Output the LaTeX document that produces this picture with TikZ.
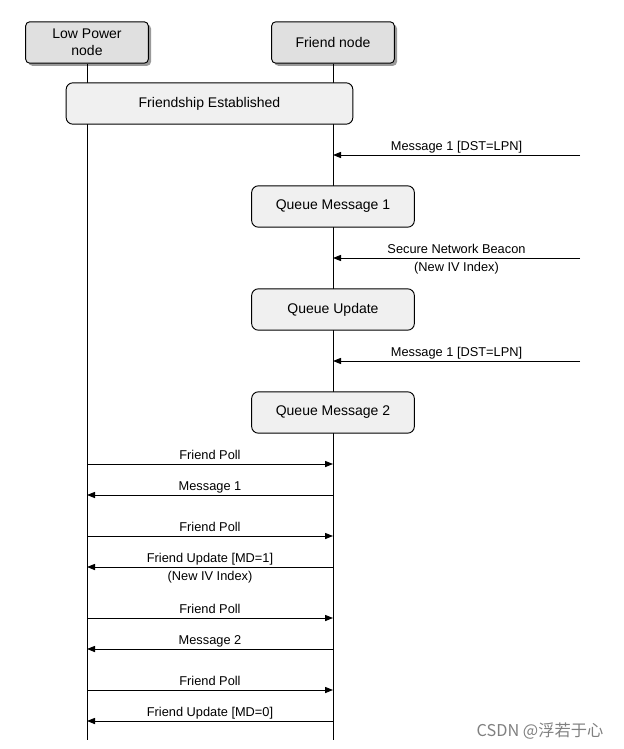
\documentclass[tikz,border=0pt]{standalone}
\usepackage{fontspec}
\setmainfont{Liberation Sans}
\newfontfamily\cjkfont{Noto Sans CJK SC}
\usetikzlibrary{arrows.meta,shadows}

\begin{document}
\begin{tikzpicture}[x=0.75pt, y=-0.75pt, line width=0.7pt,
    font=\fontsize{9.6}{11.5}\selectfont,
    actor/.style={draw, rounded corners=3pt, fill=gray!24, align=center,
      minimum width=92pt, minimum height=31pt, font=\fontsize{10.5}{12.5}\selectfont,
      drop shadow={shadow xshift=2pt, shadow yshift=-2pt, fill=gray!80, opacity=1}},
    state/.style={draw, rounded corners=5pt, fill=gray!12, minimum height=31pt,
      font=\fontsize{10.5}{12.5}\selectfont},
    msg/.style={-{Triangle[length=6pt,width=4.6pt]}},
    lbl/.style={inner sep=1pt, text height=7pt, text depth=2pt}]
  \useasboundingbox (0,0) rectangle (624,749);
  \def\lpn{87}   % low power node lifeline
  \def\fn{333}   % friend node lifeline
  \def\ext{580}  % outside sender
  % --- actors and lifelines ---
  \node[actor] (lpn) at (\lpn,42.5) {Low Power\\node};
  \node[actor] (fn) at (\fn,42.5) {Friend node};
  \coordinate (lpnEnd) at (\lpn,740);
  \coordinate (fnEnd) at (\fn,740);
  \draw (lpn.south) -- (lpnEnd);
  \draw (fn.south) -- (fnEnd);
  % --- states on the friend node ---
  \node[state, minimum width=215pt] (est) at (209.5,103.5) {Friendship Established};
  \node[state, minimum width=122pt] (q1) at (\fn,206.5) {Queue Message 1};
  \node[state, minimum width=122pt] (qu) at (\fn,309.5) {Queue Update};
  \node[state, minimum width=122pt] (q2) at (\fn,412.5) {Queue Message 2};
  % --- incoming messages (from outside) ---
  \foreach \n/\y/\lab in {a/155/{Message 1 [DST=LPN]},
      b/258/{Secure Network Beacon}, c/361/{Message 1 [DST=LPN]}} {
    \coordinate (ext\n) at (\ext,\y);
    \coordinate (in\n) at (\fn,\y);
    \draw[msg] (ext\n) -- (in\n) node[midway,above,lbl] {\lab};
  }
  \path (extb) -- (inb) node[midway,below,lbl,inner sep=2.5pt] {(New IV Index)};
  % --- polls (LPN -> friend) ---
  \foreach \n/\y in {1/464, 2/536, 3/618, 4/690} {
    \coordinate (pl\n) at (\lpn,\y);
    \coordinate (pf\n) at (\fn,\y);
    \draw[msg] (pl\n) -- (pf\n) node[midway,above,lbl] {Friend Poll};
  }
  % --- replies (friend -> LPN) ---
  \foreach \n/\y/\lab in {1/495/{Message 1}, 2/567/{Friend Update [MD=1]},
      3/649/{Message 2}, 4/721/{Friend Update [MD=0]}} {
    \coordinate (rf\n) at (\fn,\y);
    \coordinate (rl\n) at (\lpn,\y);
    \draw[msg] (rf\n) -- (rl\n) node[midway,above,lbl] {\lab};
  }
  \path (rf2) -- (rl2) node[midway,below,lbl,inner sep=2.5pt] {(New IV Index)};
  % --- watermark ---
  \node[black!50, font=\cjkfont\fontsize{12.2}{14}\selectfont] (wm) at (540,731) {CSDN @浮若于心};
\end{tikzpicture}
\end{document}
